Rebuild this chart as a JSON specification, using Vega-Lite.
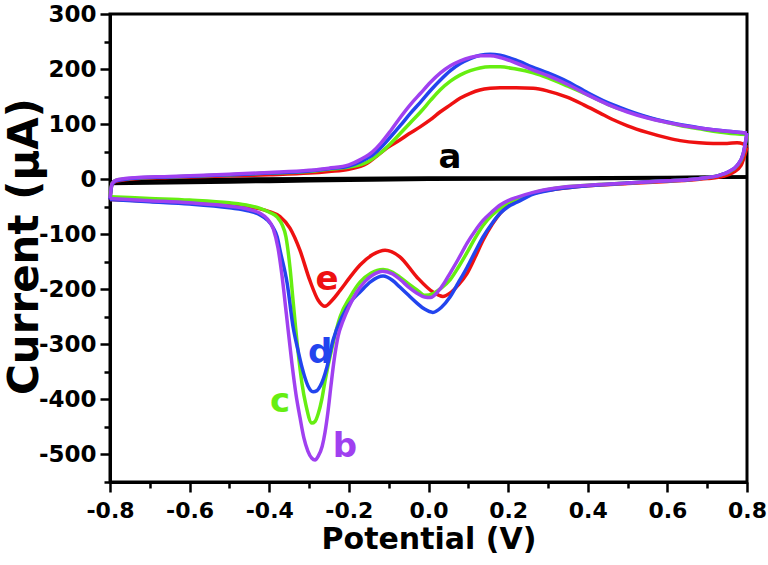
{
  "$schema": "https://vega.github.io/schema/vega-lite/v6.json",
  "width": 637,
  "height": 468,
  "autosize": {"type": "none"},
  "padding": {"left": 110, "top": 14, "right": 21, "bottom": 83},
  "background": "white",
  "config": {
    "view": {"stroke": "black", "strokeWidth": 3},
    "font": "DejaVu Sans"
  },
  "datasets": {
    "cv": [
      {"curve":"a","branch":"u","v":-0.8,"i":-8},{"curve":"a","branch":"u","v":-0.79,"i":-4},{"curve":"a","branch":"u","v":-0.7,"i":-2},{"curve":"a","branch":"u","v":-0.5,"i":0},{"curve":"a","branch":"u","v":-0.3,"i":1},{"curve":"a","branch":"u","v":0.0,"i":2},{"curve":"a","branch":"u","v":0.3,"i":2},{"curve":"a","branch":"u","v":0.6,"i":3},{"curve":"a","branch":"u","v":0.8,"i":4},
      {"curve":"a","branch":"l","v":-0.8,"i":-8},{"curve":"a","branch":"l","v":-0.6,"i":-6},{"curve":"a","branch":"l","v":-0.4,"i":-4},{"curve":"a","branch":"l","v":-0.2,"i":-2},{"curve":"a","branch":"l","v":0.0,"i":0},{"curve":"a","branch":"l","v":0.4,"i":1},{"curve":"a","branch":"l","v":0.8,"i":4},

      {"curve":"e","branch":"u","v":-0.8,"i":-37},{"curve":"e","branch":"u","v":-0.795,"i":-10},{"curve":"e","branch":"u","v":-0.785,"i":-4},{"curve":"e","branch":"u","v":-0.75,"i":0},{"curve":"e","branch":"u","v":-0.65,"i":3},{"curve":"e","branch":"u","v":-0.5,"i":6},{"curve":"e","branch":"u","v":-0.4,"i":8},{"curve":"e","branch":"u","v":-0.3,"i":11},{"curve":"e","branch":"u","v":-0.25,"i":14},{"curve":"e","branch":"u","v":-0.2,"i":18},{"curve":"e","branch":"u","v":-0.154,"i":29},{"curve":"e","branch":"u","v":-0.13,"i":42},{"curve":"e","branch":"u","v":-0.104,"i":57},{"curve":"e","branch":"u","v":-0.072,"i":71},{"curve":"e","branch":"u","v":-0.05,"i":82},{"curve":"e","branch":"u","v":-0.021,"i":95},{"curve":"e","branch":"u","v":0.005,"i":108},{"curve":"e","branch":"u","v":0.029,"i":122},{"curve":"e","branch":"u","v":0.055,"i":135},{"curve":"e","branch":"u","v":0.079,"i":147},{"curve":"e","branch":"u","v":0.105,"i":156},{"curve":"e","branch":"u","v":0.129,"i":162},{"curve":"e","branch":"u","v":0.155,"i":165},{"curve":"e","branch":"u","v":0.18,"i":166},{"curve":"e","branch":"u","v":0.22,"i":166},{"curve":"e","branch":"u","v":0.263,"i":165},{"curve":"e","branch":"u","v":0.3,"i":160},{"curve":"e","branch":"u","v":0.348,"i":149},{"curve":"e","branch":"u","v":0.39,"i":135},{"curve":"e","branch":"u","v":0.431,"i":120},{"curve":"e","branch":"u","v":0.464,"i":108},{"curve":"e","branch":"u","v":0.5,"i":97},{"curve":"e","branch":"u","v":0.549,"i":85},{"curve":"e","branch":"u","v":0.6,"i":75},{"curve":"e","branch":"u","v":0.632,"i":70},{"curve":"e","branch":"u","v":0.68,"i":66},{"curve":"e","branch":"u","v":0.715,"i":65},{"curve":"e","branch":"u","v":0.75,"i":65},{"curve":"e","branch":"u","v":0.775,"i":66},{"curve":"e","branch":"u","v":0.79,"i":64},{"curve":"e","branch":"u","v":0.8,"i":58},
      {"curve":"e","branch":"l","v":-0.8,"i":-37},{"curve":"e","branch":"l","v":-0.7,"i":-40},{"curve":"e","branch":"l","v":-0.6,"i":-43},{"curve":"e","branch":"l","v":-0.5,"i":-48},{"curve":"e","branch":"l","v":-0.45,"i":-51},{"curve":"e","branch":"l","v":-0.423,"i":-54},{"curve":"e","branch":"l","v":-0.4,"i":-59},{"curve":"e","branch":"l","v":-0.373,"i":-68},{"curve":"e","branch":"l","v":-0.348,"i":-89},{"curve":"e","branch":"l","v":-0.323,"i":-129},{"curve":"e","branch":"l","v":-0.298,"i":-184},{"curve":"e","branch":"l","v":-0.277,"i":-220},{"curve":"e","branch":"l","v":-0.26,"i":-231},{"curve":"e","branch":"l","v":-0.242,"i":-220},{"curve":"e","branch":"l","v":-0.222,"i":-202},{"curve":"e","branch":"l","v":-0.197,"i":-178},{"curve":"e","branch":"l","v":-0.172,"i":-156},{"curve":"e","branch":"l","v":-0.14,"i":-137},{"curve":"e","branch":"l","v":-0.109,"i":-129},{"curve":"e","branch":"l","v":-0.072,"i":-141},{"curve":"e","branch":"l","v":-0.029,"i":-178},{"curve":"e","branch":"l","v":0.011,"i":-205},{"curve":"e","branch":"l","v":0.036,"i":-213},{"curve":"e","branch":"l","v":0.054,"i":-207},{"curve":"e","branch":"l","v":0.075,"i":-192},{"curve":"e","branch":"l","v":0.097,"i":-171},{"curve":"e","branch":"l","v":0.117,"i":-142},{"curve":"e","branch":"l","v":0.137,"i":-111},{"curve":"e","branch":"l","v":0.16,"i":-82},{"curve":"e","branch":"l","v":0.18,"i":-62},{"curve":"e","branch":"l","v":0.2,"i":-48},{"curve":"e","branch":"l","v":0.222,"i":-38},{"curve":"e","branch":"l","v":0.263,"i":-26},{"curve":"e","branch":"l","v":0.323,"i":-18},{"curve":"e","branch":"l","v":0.4,"i":-12},{"curve":"e","branch":"l","v":0.5,"i":-8},{"curve":"e","branch":"l","v":0.6,"i":-4},{"curve":"e","branch":"l","v":0.65,"i":-2},{"curve":"e","branch":"l","v":0.7,"i":1},{"curve":"e","branch":"l","v":0.74,"i":5},{"curve":"e","branch":"l","v":0.765,"i":12},{"curve":"e","branch":"l","v":0.785,"i":25},{"curve":"e","branch":"l","v":0.8,"i":58},

      {"curve":"c","branch":"u","v":-0.8,"i":-32},{"curve":"c","branch":"u","v":-0.795,"i":-8},{"curve":"c","branch":"u","v":-0.785,"i":-2},{"curve":"c","branch":"u","v":-0.75,"i":1},{"curve":"c","branch":"u","v":-0.65,"i":4},{"curve":"c","branch":"u","v":-0.5,"i":8},{"curve":"c","branch":"u","v":-0.4,"i":11},{"curve":"c","branch":"u","v":-0.3,"i":14},{"curve":"c","branch":"u","v":-0.25,"i":18},{"curve":"c","branch":"u","v":-0.2,"i":22},{"curve":"c","branch":"u","v":-0.154,"i":31},{"curve":"c","branch":"u","v":-0.12,"i":48},{"curve":"c","branch":"u","v":-0.095,"i":65},{"curve":"c","branch":"u","v":-0.07,"i":84},{"curve":"c","branch":"u","v":-0.045,"i":103},{"curve":"c","branch":"u","v":-0.02,"i":122},{"curve":"c","branch":"u","v":0.005,"i":143},{"curve":"c","branch":"u","v":0.029,"i":162},{"curve":"c","branch":"u","v":0.055,"i":178},{"curve":"c","branch":"u","v":0.079,"i":189},{"curve":"c","branch":"u","v":0.105,"i":197},{"curve":"c","branch":"u","v":0.129,"i":202},{"curve":"c","branch":"u","v":0.155,"i":204},{"curve":"c","branch":"u","v":0.18,"i":204},{"curve":"c","branch":"u","v":0.22,"i":200},{"curve":"c","branch":"u","v":0.263,"i":193},{"curve":"c","branch":"u","v":0.3,"i":184},{"curve":"c","branch":"u","v":0.35,"i":169},{"curve":"c","branch":"u","v":0.4,"i":153},{"curve":"c","branch":"u","v":0.45,"i":136},{"curve":"c","branch":"u","v":0.5,"i":123},{"curve":"c","branch":"u","v":0.55,"i":112},{"curve":"c","branch":"u","v":0.6,"i":103},{"curve":"c","branch":"u","v":0.65,"i":95},{"curve":"c","branch":"u","v":0.7,"i":89},{"curve":"c","branch":"u","v":0.75,"i":84},{"curve":"c","branch":"u","v":0.8,"i":81},
      {"curve":"c","branch":"l","v":-0.8,"i":-32},{"curve":"c","branch":"l","v":-0.7,"i":-35},{"curve":"c","branch":"l","v":-0.6,"i":-38},{"curve":"c","branch":"l","v":-0.5,"i":-43},{"curve":"c","branch":"l","v":-0.45,"i":-48},{"curve":"c","branch":"l","v":-0.423,"i":-53},{"curve":"c","branch":"l","v":-0.4,"i":-60},{"curve":"c","branch":"l","v":-0.38,"i":-69},{"curve":"c","branch":"l","v":-0.368,"i":-82},{"curve":"c","branch":"l","v":-0.358,"i":-105},{"curve":"c","branch":"l","v":-0.348,"i":-160},{"curve":"c","branch":"l","v":-0.34,"i":-222},{"curve":"c","branch":"l","v":-0.328,"i":-311},{"curve":"c","branch":"l","v":-0.318,"i":-370},{"curve":"c","branch":"l","v":-0.308,"i":-410},{"curve":"c","branch":"l","v":-0.293,"i":-443},{"curve":"c","branch":"l","v":-0.285,"i":-440},{"curve":"c","branch":"l","v":-0.277,"i":-426},{"curve":"c","branch":"l","v":-0.268,"i":-400},{"curve":"c","branch":"l","v":-0.26,"i":-367},{"curve":"c","branch":"l","v":-0.242,"i":-305},{"curve":"c","branch":"l","v":-0.222,"i":-250},{"curve":"c","branch":"l","v":-0.197,"i":-214},{"curve":"c","branch":"l","v":-0.172,"i":-187},{"curve":"c","branch":"l","v":-0.145,"i":-171},{"curve":"c","branch":"l","v":-0.114,"i":-164},{"curve":"c","branch":"l","v":-0.09,"i":-169},{"curve":"c","branch":"l","v":-0.072,"i":-178},{"curve":"c","branch":"l","v":-0.05,"i":-190},{"curve":"c","branch":"l","v":-0.029,"i":-201},{"curve":"c","branch":"l","v":-0.009,"i":-211},{"curve":"c","branch":"l","v":0.011,"i":-208},{"curve":"c","branch":"l","v":0.032,"i":-198},{"curve":"c","branch":"l","v":0.054,"i":-183},{"curve":"c","branch":"l","v":0.075,"i":-160},{"curve":"c","branch":"l","v":0.097,"i":-133},{"curve":"c","branch":"l","v":0.117,"i":-107},{"curve":"c","branch":"l","v":0.137,"i":-84},{"curve":"c","branch":"l","v":0.16,"i":-65},{"curve":"c","branch":"l","v":0.18,"i":-53},{"curve":"c","branch":"l","v":0.2,"i":-43},{"curve":"c","branch":"l","v":0.222,"i":-36},{"curve":"c","branch":"l","v":0.263,"i":-25},{"curve":"c","branch":"l","v":0.323,"i":-16},{"curve":"c","branch":"l","v":0.4,"i":-11},{"curve":"c","branch":"l","v":0.5,"i":-7},{"curve":"c","branch":"l","v":0.6,"i":-3},{"curve":"c","branch":"l","v":0.65,"i":-1},{"curve":"c","branch":"l","v":0.7,"i":3},{"curve":"c","branch":"l","v":0.73,"i":7},{"curve":"c","branch":"l","v":0.755,"i":13},{"curve":"c","branch":"l","v":0.775,"i":24},{"curve":"c","branch":"l","v":0.79,"i":43},{"curve":"c","branch":"l","v":0.8,"i":81},

      {"curve":"d","branch":"u","v":-0.8,"i":-37},{"curve":"d","branch":"u","v":-0.795,"i":-10},{"curve":"d","branch":"u","v":-0.785,"i":-3},{"curve":"d","branch":"u","v":-0.75,"i":1},{"curve":"d","branch":"u","v":-0.65,"i":4},{"curve":"d","branch":"u","v":-0.5,"i":8},{"curve":"d","branch":"u","v":-0.4,"i":11},{"curve":"d","branch":"u","v":-0.3,"i":15},{"curve":"d","branch":"u","v":-0.25,"i":19},{"curve":"d","branch":"u","v":-0.2,"i":24},{"curve":"d","branch":"u","v":-0.17,"i":32},{"curve":"d","branch":"u","v":-0.14,"i":44},{"curve":"d","branch":"u","v":-0.12,"i":57},{"curve":"d","branch":"u","v":-0.095,"i":77},{"curve":"d","branch":"u","v":-0.07,"i":98},{"curve":"d","branch":"u","v":-0.045,"i":120},{"curve":"d","branch":"u","v":-0.02,"i":140},{"curve":"d","branch":"u","v":0.005,"i":161},{"curve":"d","branch":"u","v":0.03,"i":180},{"curve":"d","branch":"u","v":0.055,"i":197},{"curve":"d","branch":"u","v":0.08,"i":210},{"curve":"d","branch":"u","v":0.105,"i":219},{"curve":"d","branch":"u","v":0.13,"i":225},{"curve":"d","branch":"u","v":0.155,"i":227},{"curve":"d","branch":"u","v":0.18,"i":225},{"curve":"d","branch":"u","v":0.22,"i":216},{"curve":"d","branch":"u","v":0.26,"i":204},{"curve":"d","branch":"u","v":0.3,"i":193},{"curve":"d","branch":"u","v":0.35,"i":177},{"curve":"d","branch":"u","v":0.4,"i":157},{"curve":"d","branch":"u","v":0.45,"i":139},{"curve":"d","branch":"u","v":0.5,"i":125},{"curve":"d","branch":"u","v":0.55,"i":113},{"curve":"d","branch":"u","v":0.6,"i":104},{"curve":"d","branch":"u","v":0.65,"i":97},{"curve":"d","branch":"u","v":0.7,"i":91},{"curve":"d","branch":"u","v":0.75,"i":87},{"curve":"d","branch":"u","v":0.8,"i":84},
      {"curve":"d","branch":"l","v":-0.8,"i":-37},{"curve":"d","branch":"l","v":-0.7,"i":-41},{"curve":"d","branch":"l","v":-0.6,"i":-45},{"curve":"d","branch":"l","v":-0.5,"i":-52},{"curve":"d","branch":"l","v":-0.45,"i":-58},{"curve":"d","branch":"l","v":-0.423,"i":-65},{"curve":"d","branch":"l","v":-0.405,"i":-74},{"curve":"d","branch":"l","v":-0.391,"i":-87},{"curve":"d","branch":"l","v":-0.38,"i":-105},{"curve":"d","branch":"l","v":-0.373,"i":-129},{"curve":"d","branch":"l","v":-0.355,"i":-189},{"curve":"d","branch":"l","v":-0.34,"i":-269},{"curve":"d","branch":"l","v":-0.328,"i":-310},{"curve":"d","branch":"l","v":-0.318,"i":-341},{"curve":"d","branch":"l","v":-0.303,"i":-375},{"curve":"d","branch":"l","v":-0.29,"i":-386},{"curve":"d","branch":"l","v":-0.28,"i":-384},{"curve":"d","branch":"l","v":-0.272,"i":-376},{"curve":"d","branch":"l","v":-0.255,"i":-341},{"curve":"d","branch":"l","v":-0.24,"i":-293},{"curve":"d","branch":"l","v":-0.217,"i":-250},{"curve":"d","branch":"l","v":-0.192,"i":-220},{"curve":"d","branch":"l","v":-0.172,"i":-205},{"curve":"d","branch":"l","v":-0.145,"i":-186},{"curve":"d","branch":"l","v":-0.114,"i":-176},{"curve":"d","branch":"l","v":-0.09,"i":-184},{"curve":"d","branch":"l","v":-0.072,"i":-196},{"curve":"d","branch":"l","v":-0.05,"i":-211},{"curve":"d","branch":"l","v":-0.029,"i":-225},{"curve":"d","branch":"l","v":-0.01,"i":-236},{"curve":"d","branch":"l","v":0.011,"i":-242},{"curve":"d","branch":"l","v":0.032,"i":-233},{"curve":"d","branch":"l","v":0.054,"i":-214},{"curve":"d","branch":"l","v":0.075,"i":-188},{"curve":"d","branch":"l","v":0.097,"i":-160},{"curve":"d","branch":"l","v":0.117,"i":-132},{"curve":"d","branch":"l","v":0.137,"i":-105},{"curve":"d","branch":"l","v":0.16,"i":-80},{"curve":"d","branch":"l","v":0.18,"i":-62},{"curve":"d","branch":"l","v":0.2,"i":-50},{"curve":"d","branch":"l","v":0.222,"i":-42},{"curve":"d","branch":"l","v":0.263,"i":-27},{"curve":"d","branch":"l","v":0.323,"i":-18},{"curve":"d","branch":"l","v":0.4,"i":-12},{"curve":"d","branch":"l","v":0.5,"i":-7},{"curve":"d","branch":"l","v":0.6,"i":-3},{"curve":"d","branch":"l","v":0.65,"i":-1},{"curve":"d","branch":"l","v":0.7,"i":3},{"curve":"d","branch":"l","v":0.73,"i":7},{"curve":"d","branch":"l","v":0.755,"i":14},{"curve":"d","branch":"l","v":0.775,"i":25},{"curve":"d","branch":"l","v":0.79,"i":45},{"curve":"d","branch":"l","v":0.8,"i":84},

      {"curve":"b","branch":"u","v":-0.8,"i":-35},{"curve":"b","branch":"u","v":-0.795,"i":-8},{"curve":"b","branch":"u","v":-0.785,"i":-2},{"curve":"b","branch":"u","v":-0.75,"i":2},{"curve":"b","branch":"u","v":-0.65,"i":5},{"curve":"b","branch":"u","v":-0.5,"i":9},{"curve":"b","branch":"u","v":-0.4,"i":12},{"curve":"b","branch":"u","v":-0.3,"i":16},{"curve":"b","branch":"u","v":-0.25,"i":20},{"curve":"b","branch":"u","v":-0.2,"i":26},{"curve":"b","branch":"u","v":-0.17,"i":36},{"curve":"b","branch":"u","v":-0.14,"i":50},{"curve":"b","branch":"u","v":-0.12,"i":65},{"curve":"b","branch":"u","v":-0.095,"i":88},{"curve":"b","branch":"u","v":-0.07,"i":113},{"curve":"b","branch":"u","v":-0.045,"i":136},{"curve":"b","branch":"u","v":-0.02,"i":156},{"curve":"b","branch":"u","v":0.005,"i":176},{"curve":"b","branch":"u","v":0.03,"i":193},{"curve":"b","branch":"u","v":0.055,"i":206},{"curve":"b","branch":"u","v":0.08,"i":215},{"curve":"b","branch":"u","v":0.105,"i":221},{"curve":"b","branch":"u","v":0.13,"i":224},{"curve":"b","branch":"u","v":0.155,"i":224},{"curve":"b","branch":"u","v":0.18,"i":221},{"curve":"b","branch":"u","v":0.22,"i":211},{"curve":"b","branch":"u","v":0.26,"i":199},{"curve":"b","branch":"u","v":0.3,"i":188},{"curve":"b","branch":"u","v":0.35,"i":172},{"curve":"b","branch":"u","v":0.4,"i":153},{"curve":"b","branch":"u","v":0.45,"i":136},{"curve":"b","branch":"u","v":0.5,"i":122},{"curve":"b","branch":"u","v":0.55,"i":111},{"curve":"b","branch":"u","v":0.6,"i":103},{"curve":"b","branch":"u","v":0.65,"i":96},{"curve":"b","branch":"u","v":0.7,"i":91},{"curve":"b","branch":"u","v":0.75,"i":87},{"curve":"b","branch":"u","v":0.8,"i":84},
      {"curve":"b","branch":"l","v":-0.8,"i":-35},{"curve":"b","branch":"l","v":-0.7,"i":-39},{"curve":"b","branch":"l","v":-0.6,"i":-43},{"curve":"b","branch":"l","v":-0.5,"i":-49},{"curve":"b","branch":"l","v":-0.45,"i":-55},{"curve":"b","branch":"l","v":-0.423,"i":-62},{"curve":"b","branch":"l","v":-0.405,"i":-72},{"curve":"b","branch":"l","v":-0.39,"i":-90},{"curve":"b","branch":"l","v":-0.378,"i":-125},{"curve":"b","branch":"l","v":-0.368,"i":-175},{"curve":"b","branch":"l","v":-0.357,"i":-245},{"curve":"b","branch":"l","v":-0.343,"i":-335},{"curve":"b","branch":"l","v":-0.333,"i":-390},{"curve":"b","branch":"l","v":-0.323,"i":-432},{"curve":"b","branch":"l","v":-0.313,"i":-470},{"curve":"b","branch":"l","v":-0.303,"i":-494},{"curve":"b","branch":"l","v":-0.293,"i":-507},{"curve":"b","branch":"l","v":-0.285,"i":-510},{"curve":"b","branch":"l","v":-0.277,"i":-503},{"curve":"b","branch":"l","v":-0.267,"i":-485},{"curve":"b","branch":"l","v":-0.26,"i":-460},{"curve":"b","branch":"l","v":-0.253,"i":-425},{"curve":"b","branch":"l","v":-0.245,"i":-375},{"curve":"b","branch":"l","v":-0.237,"i":-328},{"curve":"b","branch":"l","v":-0.227,"i":-285},{"curve":"b","branch":"l","v":-0.215,"i":-258},{"curve":"b","branch":"l","v":-0.2,"i":-232},{"curve":"b","branch":"l","v":-0.18,"i":-205},{"curve":"b","branch":"l","v":-0.16,"i":-186},{"curve":"b","branch":"l","v":-0.14,"i":-174},{"curve":"b","branch":"l","v":-0.115,"i":-167},{"curve":"b","branch":"l","v":-0.09,"i":-172},{"curve":"b","branch":"l","v":-0.07,"i":-183},{"curve":"b","branch":"l","v":-0.05,"i":-196},{"curve":"b","branch":"l","v":-0.029,"i":-207},{"curve":"b","branch":"l","v":-0.01,"i":-214},{"curve":"b","branch":"l","v":0.005,"i":-215},{"curve":"b","branch":"l","v":0.025,"i":-203},{"curve":"b","branch":"l","v":0.04,"i":-188},{"curve":"b","branch":"l","v":0.054,"i":-171},{"curve":"b","branch":"l","v":0.075,"i":-145},{"curve":"b","branch":"l","v":0.097,"i":-116},{"curve":"b","branch":"l","v":0.117,"i":-94},{"curve":"b","branch":"l","v":0.137,"i":-75},{"curve":"b","branch":"l","v":0.16,"i":-59},{"curve":"b","branch":"l","v":0.18,"i":-47},{"curve":"b","branch":"l","v":0.2,"i":-39},{"curve":"b","branch":"l","v":0.222,"i":-33},{"curve":"b","branch":"l","v":0.263,"i":-24},{"curve":"b","branch":"l","v":0.32,"i":-16},{"curve":"b","branch":"l","v":0.4,"i":-11},{"curve":"b","branch":"l","v":0.5,"i":-7},{"curve":"b","branch":"l","v":0.6,"i":-3},{"curve":"b","branch":"l","v":0.65,"i":-1},{"curve":"b","branch":"l","v":0.7,"i":3},{"curve":"b","branch":"l","v":0.73,"i":7},{"curve":"b","branch":"l","v":0.755,"i":14},{"curve":"b","branch":"l","v":0.775,"i":25},{"curve":"b","branch":"l","v":0.79,"i":45},{"curve":"b","branch":"l","v":0.8,"i":84}
    ],
    "labels": [
      {"curve":"a","v":0.054,"i":38},
      {"curve":"b","v":-0.21,"i":-487},
      {"curve":"c","v":-0.373,"i":-405},
      {"curve":"d","v":-0.272,"i":-315},
      {"curve":"e","v":-0.255,"i":-184}
    ]
  },
  "encoding": {
    "x": {
      "field": "v", "type": "quantitative",
      "scale": {"domain": [-0.8, 0.8], "nice": false, "zero": false},
      "axis": {
        "title": "Potential (V)",
        "values": [-0.8,-0.7,-0.6,-0.5,-0.4,-0.3,-0.2,-0.1,0,0.1,0.2,0.3,0.4,0.5,0.6,0.7,0.8],
        "labelExpr": "abs(round(datum.value*10)) % 2 === 0 ? (datum.value === 0 ? '0.0' : '' + datum.value) : ''",
        "grid": false,
        "domainColor": "black", "domainWidth": 3,
        "tickColor": "black", "tickWidth": 2.5,
        "tickSize": {"condition": {"test": "abs(round(datum.value*10)) % 2 === 0", "value": 10}, "value": 6},
        "labelFont": "DejaVu Sans", "labelFontWeight": "bold", "labelFontSize": 22, "labelColor": "black",
        "labelPadding": 8, "labelFlush": false, "labelOverlap": false,
        "titleFont": "DejaVu Sans", "titleFontWeight": "bold", "titleFontSize": 30, "titleColor": "black",
        "titleY": 66, "titleBaseline": "alphabetic"
      }
    },
    "y": {
      "field": "i", "type": "quantitative",
      "scale": {"domain": [-550, 300], "nice": false, "zero": false},
      "axis": {
        "title": "Current (μA)",
        "values": [-550,-500,-450,-400,-350,-300,-250,-200,-150,-100,-50,0,50,100,150,200,250,300],
        "labelExpr": "datum.value % 100 === 0 ? '' + datum.value : ''",
        "grid": false,
        "domainColor": "black", "domainWidth": 3,
        "tickColor": "black", "tickWidth": 2.5,
        "tickSize": {"condition": {"test": "datum.value % 100 === 0", "value": 10}, "value": 6},
        "labelFont": "DejaVu Sans", "labelFontWeight": "bold", "labelFontSize": 23, "labelColor": "black",
        "labelPadding": 4, "labelFlush": false, "labelOverlap": false,
        "titleFont": "DejaVu Sans", "titleFontWeight": "bold", "titleFontSize": 42, "titleColor": "black",
        "titleX": -73, "titleY": 232, "titleAngle": -90, "titleBaseline": "alphabetic", "titleAlign": "center"
      }
    },
    "color": {
      "field": "curve", "type": "nominal",
      "scale": {"domain": ["a","b","c","d","e"], "range": ["#000000","#a040f0","#66ee11","#2244ee","#ee1111"]},
      "legend": null
    }
  },
  "layer": [
    {
      "data": {"name": "cv"},
      "mark": {"type": "line", "interpolate": "monotone", "strokeWidth": 3.5},
      "encoding": {"detail": {"field": "branch", "type": "nominal"}}
    },
    {
      "data": {"name": "labels"},
      "mark": {"type": "text", "font": "DejaVu Sans", "fontWeight": "bold", "fontSize": 34, "align": "center", "baseline": "middle"},
      "encoding": {"text": {"field": "curve", "type": "nominal"}}
    }
  ]
}
